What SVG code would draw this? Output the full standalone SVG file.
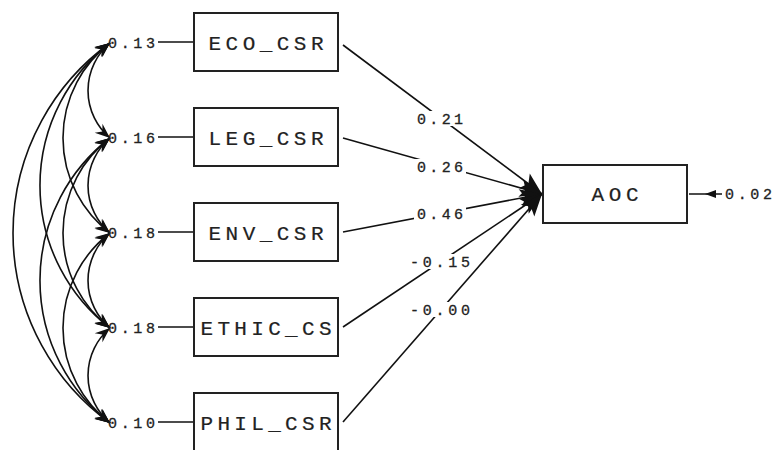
<svg xmlns="http://www.w3.org/2000/svg" width="773" height="450" viewBox="0 0 773 450">
  <style>
    .box { fill: #fff; stroke: #222; stroke-width: 2; }
    .name { font-family: "Liberation Mono", "DejaVu Sans Mono", monospace; font-size: 21px; fill: #222; stroke: #222; stroke-width: 0.2; text-anchor: middle; }
    .num { font-family: "Liberation Mono", "DejaVu Sans Mono", monospace; font-size: 15px; fill: #222; stroke: #222; stroke-width: 0.3; }
    .ln { fill: none; stroke: #111; stroke-width: 1.6; }
    .cov { fill: none; stroke: #111; stroke-width: 1.6; marker-start: url(#head); marker-end: url(#head); }
    .reg { fill: none; stroke: #111; stroke-width: 1.6; marker-end: url(#bighead); }
    .bg { fill: #fff; }
  </style>
  <defs>
    <marker id="head" viewBox="-16 -7 18 14" refX="0" refY="0" markerWidth="18" markerHeight="14" markerUnits="userSpaceOnUse" orient="auto-start-reverse">
      <path d="M0,0 L-15,-6 L-10,0 L-15,6 Z" fill="#111"/>
    </marker>
    <marker id="bighead" viewBox="-24 -10 26 20" refX="0" refY="0" markerWidth="26" markerHeight="20" markerUnits="userSpaceOnUse" orient="auto">
      <path d="M0,0 L-22,-9 L-17,0 L-22,9 Z" fill="#111"/>
    </marker>
  </defs>

  <!-- connectors -->
  <g id="connectors">
    <!-- error-term links to the indicator boxes -->
    <path class="ln" d="M158,42 H194"/>
    <path class="ln" d="M158,137 H194"/>
    <path class="ln" d="M158,232 H194"/>
    <path class="ln" d="M158,327 H194"/>
    <path class="ln" d="M158,422 H194"/>

    <!-- covariances between error terms (span 1) -->
    <path class="cov" d="M110,43 A62.3 62.3 0 0 0 110,138"/>
    <path class="cov" d="M110,138 A62.3 62.3 0 0 0 110,233"/>
    <path class="cov" d="M110,233 A62.3 62.3 0 0 0 110,328"/>
    <path class="cov" d="M110,328 A62.3 62.3 0 0 0 110,423"/>
    <!-- span 2 -->
    <path class="cov" d="M110,43 A119.5 119.5 0 0 0 110,233"/>
    <path class="cov" d="M110,138 A119.5 119.5 0 0 0 110,328"/>
    <path class="cov" d="M110,233 A119.5 119.5 0 0 0 110,423"/>
    <!-- span 3 -->
    <path class="cov" d="M110,43 A180 180 0 0 0 110,328"/>
    <path class="cov" d="M110,138 A180 180 0 0 0 110,423"/>
    <!-- span 4 -->
    <path class="cov" d="M110,43 A234.6 234.6 0 0 0 110,423"/>

    <!-- paths into AOC -->
    <path class="reg" d="M343,45 L542,194"/>
    <path class="reg" d="M343,138 L542,194"/>
    <path class="reg" d="M343,232 L542,194"/>
    <path class="reg" d="M343,327 L542,194"/>
    <path class="reg" d="M343,422 L542,194"/>

    <!-- AOC disturbance -->
    <path class="ln" d="M689,194 H722"/>
    <path d="M705,194 L716,190 L716,198 Z" fill="#111"/>
  </g>

  <!-- path coefficients -->
  <g id="coefficients">
    <rect class="bg" x="414" y="111" width="52" height="15"/>
    <text class="num" x="417" y="124" textLength="46" lengthAdjust="spacing">0.21</text>
    <rect class="bg" x="414" y="159" width="52" height="15"/>
    <text class="num" x="417" y="172" textLength="46" lengthAdjust="spacing">0.26</text>
    <rect class="bg" x="414" y="206" width="52" height="15"/>
    <text class="num" x="417" y="219" textLength="46" lengthAdjust="spacing">0.46</text>
    <rect class="bg" x="408" y="254" width="64" height="15"/>
    <text class="num" x="410" y="267" textLength="60" lengthAdjust="spacing">-0.15</text>
    <rect class="bg" x="408" y="302" width="64" height="15"/>
    <text class="num" x="410" y="315" textLength="60" lengthAdjust="spacing">-0.00</text>
  </g>

  <!-- error variances -->
  <g id="errors">
    <text class="num" x="108" y="48" textLength="47" lengthAdjust="spacing">0.13</text>
    <text class="num" x="108" y="143" textLength="47" lengthAdjust="spacing">0.16</text>
    <text class="num" x="108" y="238" textLength="47" lengthAdjust="spacing">0.18</text>
    <text class="num" x="108" y="333" textLength="47" lengthAdjust="spacing">0.18</text>
    <text class="num" x="108" y="428" textLength="47" lengthAdjust="spacing">0.10</text>
    <text class="num" x="725" y="199" textLength="47" lengthAdjust="spacing">0.02</text>
  </g>

  <g id="ECO_CSR">
    <rect class="box" x="194" y="13" width="144" height="58"/>
    <text class="name" x="266" y="50" textLength="115" lengthAdjust="spacing">ECO_CSR</text>
  </g>
  <g id="LEG_CSR">
    <rect class="box" x="194" y="108" width="144" height="58"/>
    <text class="name" x="266" y="145" textLength="115" lengthAdjust="spacing">LEG_CSR</text>
  </g>
  <g id="ENV_CSR">
    <rect class="box" x="194" y="203" width="144" height="58"/>
    <text class="name" x="266" y="240" textLength="115" lengthAdjust="spacing">ENV_CSR</text>
  </g>
  <g id="ETHIC_CS">
    <rect class="box" x="194" y="298" width="144" height="58"/>
    <text class="name" x="266" y="335" textLength="131" lengthAdjust="spacing">ETHIC_CS</text>
  </g>
  <g id="PHIL_CSR">
    <rect class="box" x="194" y="393" width="144" height="58"/>
    <text class="name" x="266" y="430" textLength="131" lengthAdjust="spacing">PHIL_CSR</text>
  </g>
  <g id="AOC">
    <rect class="box" x="543" y="165" width="144" height="58"/>
    <text class="name" x="615" y="201" textLength="47" lengthAdjust="spacing">AOC</text>
  </g>
</svg>
